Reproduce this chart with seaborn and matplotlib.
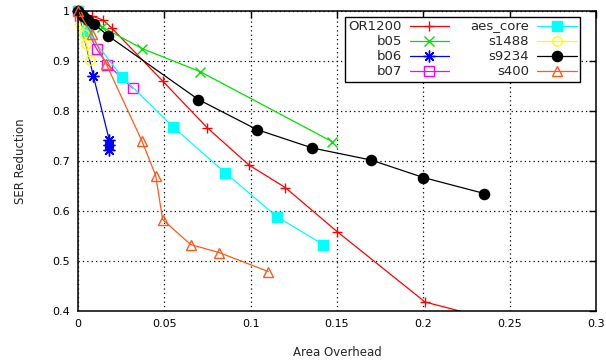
import numpy as np
import pandas as pd
import seaborn as sns
import matplotlib
matplotlib.use("Agg")
import matplotlib.pyplot as plt
from matplotlib.ticker import FuncFormatter

# series
or1200_x = [0, 0.008, 0.0145, 0.0195, 0.049, 0.0747, 0.099, 0.12, 0.15, 0.201, 0.26]
or1200_y = [1.0, 0.99, 0.982, 0.966, 0.86, 0.767, 0.692, 0.647, 0.559, 0.418, 0.365]

b05_x = [0, 0.014, 0.037, 0.0706, 0.147]
b05_y = [1.0, 0.968, 0.925, 0.879, 0.739]

b06_x = [0, 0.0089, 0.0181, 0.0181, 0.0181]
b06_y = [1.0, 0.87, 0.742, 0.732, 0.723]

b07_x = [0, 0.001, 0.0108, 0.017, 0.0317]
b07_y = [1.0, 0.99, 0.924, 0.893, 0.846]

aes_x = [0, 0.005, 0.0253, 0.0548, 0.0851, 0.115, 0.142]
aes_y = [1.0, 0.96, 0.869, 0.769, 0.677, 0.589, 0.533]

s1488_x = [0, 0.0012, 0.0035, 0.0046, 0.007]
s1488_y = [1.0, 0.975, 0.955, 0.935, 0.903]

s9234_x = [0, 0.003, 0.006, 0.009, 0.0176, 0.0697, 0.1035, 0.1357, 0.1697, 0.2, 0.2353]
s9234_y = [1.0, 0.99, 0.982, 0.975, 0.95, 0.823, 0.763, 0.726, 0.702, 0.667, 0.635]

s400_x = [0, 0.0079, 0.0162, 0.0369, 0.045, 0.049, 0.0652, 0.0816, 0.1102]
s400_y = [1.0, 0.955, 0.895, 0.741, 0.671, 0.583, 0.533, 0.517, 0.479]

x_ticks = [0, 0.05, 0.1, 0.15, 0.2, 0.25, 0.3]
y_ticks = [0.4, 0.5, 0.6, 0.7, 0.8, 0.9, 1.0]

sns.set_style("white")
plt.rcParams["font.family"] = ["DejaVu Sans"]

# name, x, y, color, marker, filled, size, clipped
series = [
    ("OR1200", or1200_x, or1200_y, "#ff0000", "+", True, 7.5, True),
    ("b05", b05_x, b05_y, "#00e000", "x", True, 7, False),
    ("b06", b06_x, b06_y, "#0000ff", (8, 2, 0), True, 8.5, False),
    ("b07", b07_x, b07_y, "#ff00ff", "s", False, 6.5, False),
    ("aes_core", aes_x, aes_y, "#00ffff", "s", True, 7, False),
    ("s1488", s1488_x, s1488_y, "#ffff00", "o", False, 6.8, False),
    ("s9234", s9234_x, s9234_y, "#000000", "o", True, 7.3, False),
    ("s400", s400_x, s400_y, "#ff5a1a", "^", False, 7.2, False),
]

fig = plt.figure(figsize=(6.06, 3.62), dpi=100)
ax = fig.add_axes([78 / 606, 1 - 311 / 362, 518 / 606, 300 / 362])

for name, xs, ys, col, mk, filled, ms, clip in series:
    df = pd.DataFrame({"x": xs, "y": ys})
    sns.lineplot(data=df, x="x", y="y", ax=ax, sort=False, estimator=None,
                 color=col, marker=mk, markersize=ms, linewidth=0.9,
                 markerfacecolor=col if filled else "none",
                 markeredgecolor=col, markeredgewidth=1.0,
                 label=name, clip_on=clip)

ax.set_xlim(0, 0.3)
ax.set_ylim(0.4, 1.0)
ax.set_xticks(x_ticks)
ax.set_yticks(y_ticks)
fmt = FuncFormatter(lambda v, p: "{:g}".format(round(v, 3)))
ax.xaxis.set_major_formatter(fmt)
ax.yaxis.set_major_formatter(fmt)
ax.tick_params(direction="in", length=5, width=1, top=True, right=True,
               labelsize=8, pad=6, colors="black")
ax.grid(True, color="black", linestyle=(0, (1, 2.5)), linewidth=0.9)
for sp in ax.spines.values():
    sp.set_color("black")
    sp.set_linewidth(1.1)

ax.set_xlabel("Area Overhead", fontsize=8.5, labelpad=12)
ax.set_ylabel("SER Reduction", fontsize=8.5, labelpad=18)

leg = ax.legend(ncol=2, markerfirst=False, loc="upper right",
                bbox_to_anchor=(0.969, 0.98), borderaxespad=0,
                fontsize=9.5, frameon=True, fancybox=False, framealpha=1,
                edgecolor="black", handlelength=3.0, handletextpad=0.6,
                columnspacing=1.6, labelspacing=0.15, borderpad=0.25)
leg.get_frame().set_linewidth(1.0)

fig.savefig("out.png", dpi=100)
